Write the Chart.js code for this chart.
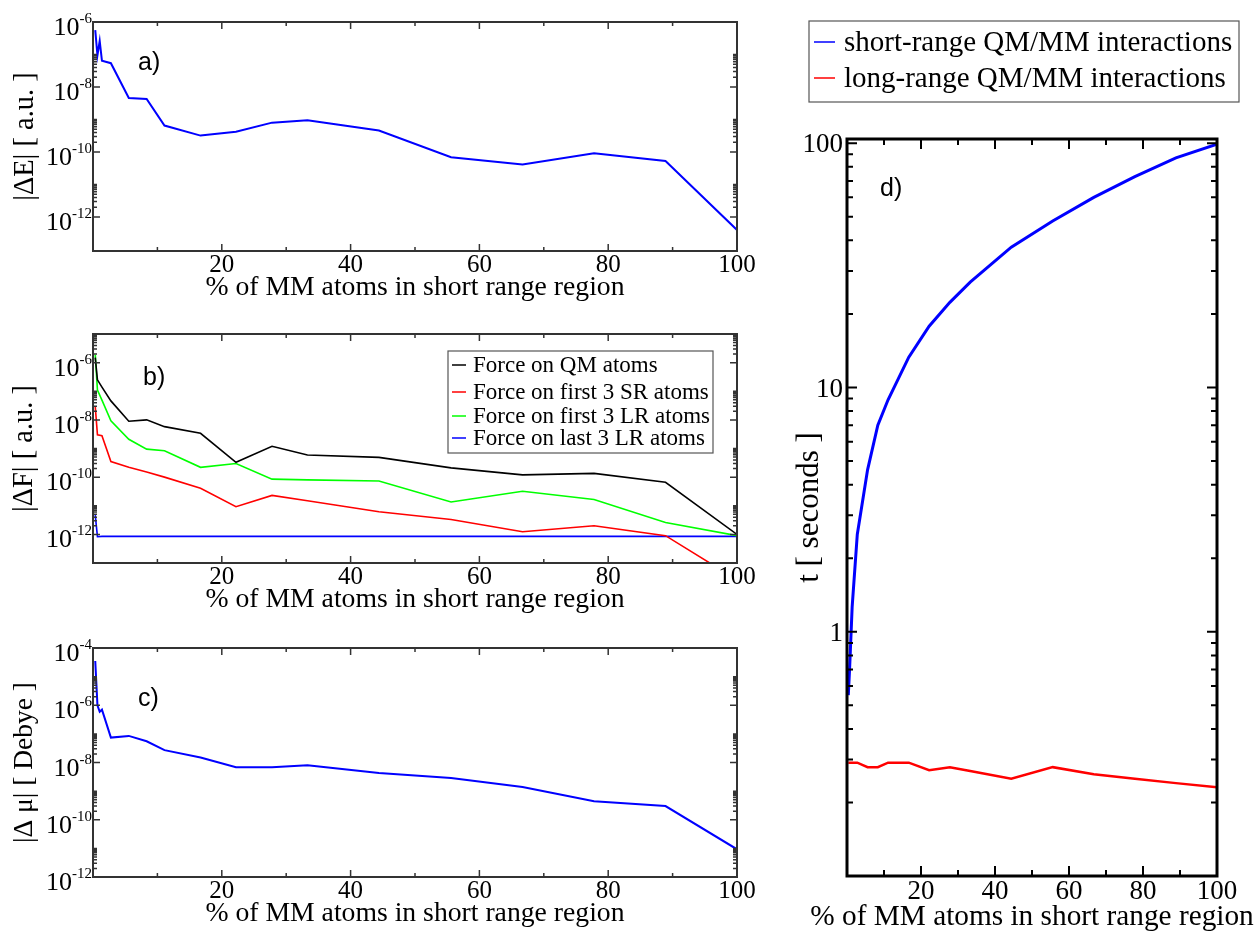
<!DOCTYPE html>
<html>
<head>
<meta charset="utf-8">
<script src="https://cdn.jsdelivr.net/npm/chart.js@4.4.1/dist/chart.umd.min.js"></script>
<style>
  body { margin: 0; background: #fff; }
  #page { position: relative; width: 1258px; height: 932px; overflow: hidden; }
  canvas { position: absolute; }
</style>
</head>
<body>
<div id="page">
  <canvas id="chartA" width="760" height="310" style="left:0;top:0"></canvas>
  <canvas id="chartB" width="760" height="310" style="left:0;top:312px"></canvas>
  <canvas id="chartC" width="760" height="306" style="left:0;top:626px"></canvas>
  <canvas id="chartD" width="498" height="932" style="left:760px;top:0"></canvas>
</div>
<script>
// a) energy error vs % of MM atoms in short range region
const pctA = [0.35, 0.69, 1.04, 1.39, 2.78, 5.56, 8.33, 11.1, 16.7, 22.2, 27.8, 33.3, 44.4, 55.6, 66.7, 77.8, 88.9, 100];
const errE = [5.6e-7, 9.5e-8, 2.6e-7, 6.4e-8, 5.4e-8, 4.6e-9, 4.3e-9, 6.5e-10, 3.2e-10, 4.2e-10, 8e-10, 9.5e-10, 4.6e-10, 6.9e-11, 4.1e-11, 9.1e-11, 5.3e-11, 4e-13];

// b) force errors
const pctB = [0.35, 0.69, 1.39, 2.78, 5.56, 8.33, 11.1, 16.7, 22.2, 27.8, 33.3, 44.4, 55.6, 66.7, 77.8, 88.9, 100];
const forceQM = [1.5e-6, 2.5e-7, 1.4e-7, 4.6e-8, 9e-9, 1e-8, 5.8e-9, 3.4e-9, 3.3e-10, 1.2e-9, 5.9e-10, 4.9e-10, 2.1e-10, 1.2e-10, 1.35e-10, 6.6e-11, 1e-12];
const forceSR = [2.9e-8, 3e-9, 2.8e-9, 3.5e-10, 2.2e-10, 1.5e-10, 1e-10, 4.1e-11, 9.3e-12, 2.3e-11, 1.5e-11, 6.2e-12, 3.3e-12, 1.24e-12, 2e-12, 9e-13, 2.6e-14];
const forceLR1 = [1.9e-6, 1.1e-7, 4.9e-8, 9.3e-9, 2.1e-9, 9.5e-10, 8.3e-10, 2.2e-10, 3e-10, 8.5e-11, 8e-11, 7.3e-11, 1.35e-11, 3.2e-11, 1.66e-11, 2.6e-12, 9e-13];
const forceLR2 = [4.7e-12, 8.3e-13, 8.5e-13, 8.5e-13, 8.5e-13, 8.5e-13, 8.5e-13, 8.5e-13, 8.5e-13, 8.5e-13, 8.5e-13, 8.5e-13, 8.5e-13, 8.5e-13, 8.5e-13, 8.5e-13, 8.5e-13];
const forceNames = ['Force on QM atoms', 'Force on first 3 SR atoms', 'Force on first 3 LR atoms', 'Force on last 3 LR atoms'];

// c) dipole error
const pctC = [0.35, 0.69, 1.04, 1.39, 2.78, 5.56, 8.33, 11.1, 16.7, 22.2, 27.8, 33.3, 44.4, 55.6, 66.7, 77.8, 88.9, 100];
const errMu = [3.5e-5, 1e-6, 5.9e-7, 7e-7, 7.4e-8, 8.5e-8, 5.5e-8, 2.7e-8, 1.5e-8, 6.8e-9, 6.8e-9, 8e-9, 4.3e-9, 2.9e-9, 1.4e-9, 4.4e-10, 3e-10, 9.3e-12];

// d) timings
const pctD = [0.35, 0.69, 1.39, 2.78, 5.56, 8.33, 11.1, 16.7, 22.2, 27.8, 33.3, 44.4, 55.6, 66.7, 77.8, 88.9, 100];
const timeShort = [0.55, 0.70, 1.26, 2.5, 4.6, 7.0, 8.9, 13.3, 17.8, 22.3, 27, 37.5, 48, 60, 73, 87, 99];
const timeLong = [0.291, 0.291, 0.291, 0.291, 0.279, 0.279, 0.291, 0.291, 0.271, 0.279, 0.269, 0.25, 0.279, 0.261, 0.25, 0.24, 0.231];
const timeNames = ['short-range QM/MM interactions', 'long-range QM/MM interactions'];

// tick labels
const xLabels = [20, 40, 60, 80, 100];
const expA = [-6, -8, -10, -12];
const expB = [-6, -8, -10, -12];
const expC = [-4, -6, -8, -10, -12];
const tLabels = [1, 10, 100];
const xTitle = '% of MM atoms in short range region';

const SERIF = "'Liberation Serif', 'Times New Roman', serif";
const SANS = "'Liberation Sans', Arial, sans-serif";
Chart.defaults.font.family = SERIF;
Chart.defaults.color = '#000';

const pts = (xs, ys) => xs.map((x, i) => ({ x: x, y: ys[i] }));

// minor ticks grace-style: k * 10^e for k = 2..10 above every labelled decade
function minorsEvery2(exps) {
    const out = [];
    exps.forEach(e => { for (let k = 2; k <= 10; k++) out.push(k * Math.pow(10, e)); });
    return out;
}

// frame plugin: box, inward ticks, superscript tick labels, panel tag and legend
const framePlugin = {
    id: 'frame',
    afterDatasetsDraw(chart, args, o) {
        const ctx = chart.ctx;
        const { left, right, top, bottom } = chart.chartArea;
        const sx = chart.scales.x, sy = chart.scales.y;
        ctx.save();
        ctx.strokeStyle = o.color;
        ctx.lineWidth = o.tickWidth;
        ctx.beginPath();
        const xTick = (v, len) => {
            const p = sx.getPixelForValue(v);
            ctx.moveTo(p, bottom); ctx.lineTo(p, bottom - len);
            ctx.moveTo(p, top); ctx.lineTo(p, top + len);
        };
        const yTick = (v, len) => {
            const p = sy.getPixelForValue(v);
            if (p < top - 0.5 || p > bottom + 0.5) return;
            ctx.moveTo(left, p); ctx.lineTo(left + len, p);
            ctx.moveTo(right, p); ctx.lineTo(right - len, p);
        };
        [20, 40, 60, 80].forEach(v => xTick(v, o.major));
        [10, 30, 50, 70, 90].forEach(v => xTick(v, o.minor));
        o.yMajor.forEach(v => yTick(v, o.major));
        o.yMinor.forEach(v => yTick(v, o.minor));
        ctx.stroke();
        ctx.lineWidth = o.boxWidth;
        ctx.strokeRect(left, top, right - left, bottom - top);

        // y tick labels
        ctx.fillStyle = '#000';
        o.yLabels.forEach(l => {
            const p = sy.getPixelForValue(l.v);
            if (l.exp === undefined) {
                ctx.font = o.labelSize + 'px ' + SERIF;
                ctx.textAlign = 'right';
                ctx.textBaseline = 'middle';
                ctx.fillText(l.base, left - 4, p + 2);
                return;
            }
            ctx.textBaseline = 'alphabetic';
            ctx.font = o.expSize + 'px ' + SERIF;
            const w = ctx.measureText(l.exp).width;
            ctx.textAlign = 'left';
            ctx.fillText(l.exp, left - 1 - w, p + 1);
            ctx.font = o.labelSize + 'px ' + SERIF;
            ctx.textAlign = 'right';
            ctx.fillText(l.base, left - 1 - w, p + 13);
        });

        // wide x title (wider than the plot, so not drawn by the scale)
        if (o.xTitle) {
            ctx.font = o.xTitle.size + 'px ' + SERIF;
            ctx.textAlign = 'center';
            ctx.textBaseline = 'middle';
            ctx.fillText(o.xTitle.text, (left + right) / 2, o.xTitle.y);
        }

        // panel tag
        ctx.font = '25px ' + SANS;
        ctx.textAlign = 'left';
        ctx.textBaseline = 'alphabetic';
        ctx.fillText(o.tag.text, o.tag.x, o.tag.y);

        // legend
        if (o.legend) {
            const g = o.legend;
            ctx.fillStyle = '#fff';
            ctx.fillRect(g.x1, g.y1, g.x2 - g.x1, g.y2 - g.y1);
            ctx.strokeStyle = '#555';
            ctx.lineWidth = 1.2;
            ctx.strokeRect(g.x1, g.y1, g.x2 - g.x1, g.y2 - g.y1);
            ctx.font = g.size + 'px ' + SERIF;
            ctx.textBaseline = 'middle';
            ctx.textAlign = 'left';
            chart.data.datasets.forEach((ds, i) => {
                const y = g.rows[i];
                ctx.strokeStyle = ds.borderColor;
                ctx.lineWidth = 1.5;
                ctx.beginPath();
                ctx.moveTo(g.lineFrom, y); ctx.lineTo(g.lineTo, y);
                ctx.stroke();
                ctx.fillStyle = '#000';
                ctx.fillText(ds.label, g.textX, y + 1);
            });
        }
        ctx.restore();
    }
};

// shared options for one panel
function panelOptions(p) {
    return {
        responsive: false,
        animation: false,
        devicePixelRatio: 1,
        layout: { padding: { left: 0, top: p.padTop, right: p.padRight, bottom: 0 } },
        plugins: { legend: { display: false }, tooltip: { enabled: false }, frame: p.frame },
        elements: { point: { radius: 0 }, line: { tension: 0 } },
        scales: {
            x: {
                type: 'linear', min: 0, max: 100,
                grid: { display: false, drawTicks: false },
                border: { display: false },
                ticks: {
                    stepSize: 10, autoSkip: false, maxRotation: 0, padding: 2,
                    font: { size: p.tickSize, lineHeight: 1 },
                    callback: v => xLabels.includes(v) ? String(v) : ''
                },
                title: {
                    display: !p.frame.xTitle, text: xTitle,
                    font: { size: p.titleSize, lineHeight: 1 },
                    padding: { top: 0, bottom: p.titlePad }
                },
                afterFit: s => { s.height = p.xHeight; }
            },
            y: {
                type: 'logarithmic', min: p.yMin, max: p.yMax,
                grid: { display: false, drawTicks: false },
                border: { display: false },
                ticks: { display: false },
                title: {
                    display: true, text: p.yTitle,
                    font: { size: p.yTitleSize, lineHeight: 1 },
                    padding: { top: p.yTitlePad, bottom: 0 }
                },
                afterFit: s => { s.width = p.yWidth; }
            }
        }
    };
}

function frameOpts(exps, tag, extra) {
    return Object.assign({
        color: '#333', tickWidth: 1.5, boxWidth: 2, major: 7, minor: 4,
        labelSize: 26, expSize: 15,
        yMajor: exps.map(e => Math.pow(10, e)),
        yMinor: minorsEvery2(exps),
        yLabels: exps.map(e => ({ v: Math.pow(10, e), base: '10', exp: String(e) })),
        tag: tag
    }, extra || {});
}

// a)
new Chart(document.getElementById('chartA'), {
    type: 'line',
    data: { datasets: [{ label: '|ΔE|', data: pts(pctA, errE), borderColor: '#0000ff', borderWidth: 2 }] },
    options: panelOptions({
        padTop: 22, padRight: 23, xHeight: 59, yWidth: 93, tickSize: 25, titleSize: 27.7, titlePad: 8,
        yMin: 9e-14, yMax: 1e-6, yTitle: '|ΔE| [ a.u. ]', yTitleSize: 28.5, yTitlePad: 11,
        frame: frameOpts(expA, { text: 'a)', x: 138, y: 70 })
    }),
    plugins: [framePlugin]
});

// b)
new Chart(document.getElementById('chartB'), {
    type: 'line',
    data: {
        datasets: [
            { label: forceNames[0], data: pts(pctB, forceQM), borderColor: '#000000', borderWidth: 1.6 },
            { label: forceNames[1], data: pts(pctB, forceSR), borderColor: '#ff0000', borderWidth: 1.6 },
            { label: forceNames[2], data: pts(pctB, forceLR1), borderColor: '#00ff00', borderWidth: 1.6 },
            { label: forceNames[3], data: pts(pctB, forceLR2), borderColor: '#0000ff', borderWidth: 1.6 }
        ]
    },
    options: panelOptions({
        padTop: 22, padRight: 23, xHeight: 59, yWidth: 93, tickSize: 25, titleSize: 27.7, titlePad: 8,
        yMin: 1e-13, yMax: 1e-5, yTitle: '|ΔF| [ a.u. ]', yTitleSize: 28.5, yTitlePad: 10,
        frame: frameOpts(expB, { text: 'b)', x: 143, y: 385 - 312 }, {
            yMinor: minorsEvery2([-12, -10, -8, -6]),
            legend: { x1: 448, y1: 39, x2: 713, y2: 141, rows: [53, 80, 104, 126], lineFrom: 452, lineTo: 466, textX: 473, size: 23 }
        })
    }),
    plugins: [framePlugin]
});

// c)
new Chart(document.getElementById('chartC'), {
    type: 'line',
    data: { datasets: [{ label: '|Δ μ|', data: pts(pctC, errMu), borderColor: '#0000ff', borderWidth: 2 }] },
    options: panelOptions({
        padTop: 22, padRight: 23, xHeight: 55, yWidth: 93, tickSize: 25, titleSize: 27.7, titlePad: 4,
        yMin: 1e-12, yMax: 1e-4, yTitle: '|Δ μ| [ Debye ]', yTitleSize: 27.5, yTitlePad: 11,
        frame: frameOpts(expC, { text: 'c)', x: 138, y: 706 - 626 }, { yMinor: minorsEvery2([-12, -10, -8, -6]) })
    }),
    plugins: [framePlugin]
});

// d)
const dMinor = [];
[-1, 0, 1].forEach(e => { for (let k = 2; k <= 9; k++) dMinor.push(k * Math.pow(10, e)); });
new Chart(document.getElementById('chartD'), {
    type: 'line',
    data: {
        datasets: [
            { label: timeNames[0], data: pts(pctD, timeShort), borderColor: '#0000ff', borderWidth: 3 },
            { label: timeNames[1], data: pts(pctD, timeLong), borderColor: '#ff0000', borderWidth: 2.5 }
        ]
    },
    options: panelOptions({
        padTop: 139, padRight: 41, xHeight: 56, yWidth: 87, tickSize: 27, titleSize: 29, titlePad: 0,
        yMin: 0.1, yMax: 104, yTitle: 't [ seconds ]', yTitleSize: 31, yTitlePad: 34,
        frame: {
            color: '#000', tickWidth: 2, boxWidth: 3, major: 10, minor: 6, labelSize: 27,
            yMajor: tLabels, yMinor: dMinor,
            yLabels: tLabels.map(v => ({ v: v, base: String(v) })),
            xTitle: { text: xTitle, y: 917, size: 29.3 },
            tag: { text: 'd)', x: 120, y: 196 },
            legend: { x1: 49, y1: 21, x2: 479, y2: 102, rows: [42, 78], lineFrom: 54, lineTo: 75, textX: 84, size: 29 }
        }
    }),
    plugins: [framePlugin]
});
</script>
</body>
</html>
